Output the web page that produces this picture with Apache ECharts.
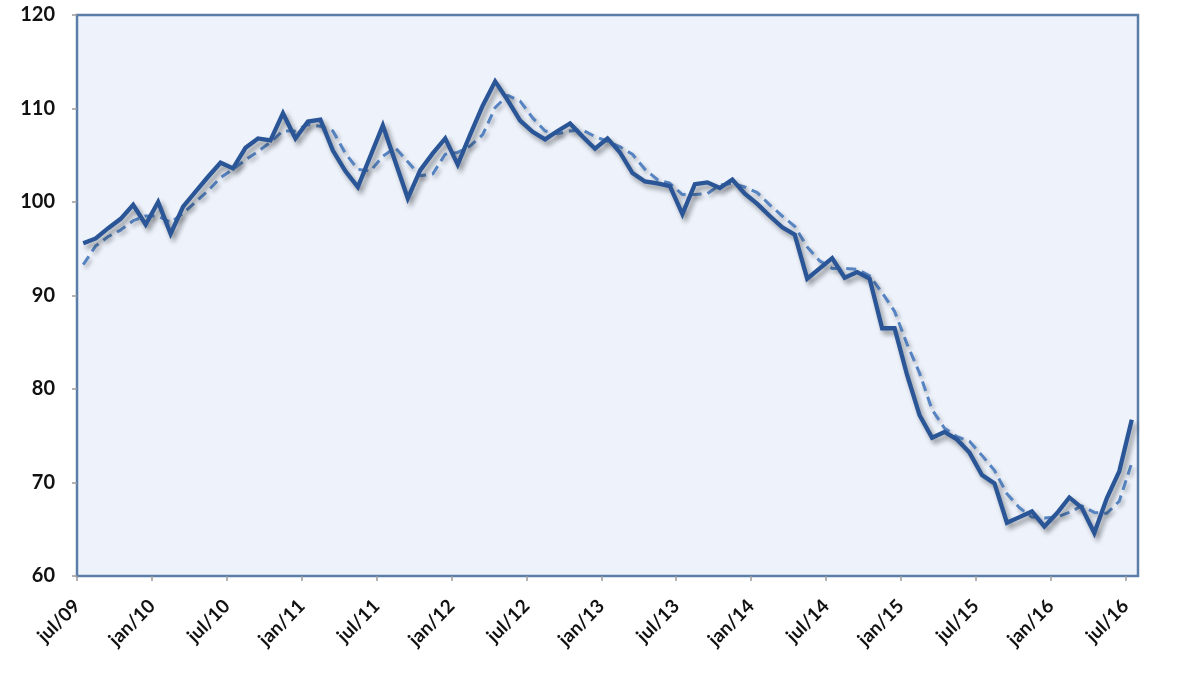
<!DOCTYPE html>
<html>
<head>
<meta charset="utf-8">
<script src="https://cdn.jsdelivr.net/npm/echarts@6/dist/echarts.min.js"></script>
<style>
  html, body { margin: 0; padding: 0; background: #fff; }
  #container { width: 1200px; height: 675px; }
</style>
</head>
<body>
<div id="container"></div>
<script>
// monthly index, jul/09 .. jul/16
const monthNames = ['jan', 'fev', 'mar', 'abr', 'mai', 'jun', 'jul', 'ago', 'set', 'out', 'nov', 'dez'];
const startYear = 2009;
const startMonth = 6; // jul

const indexValues = [
    95.6, 96.1, 97.2, 98.2, 99.7, 97.6, 100.0, 96.6, 99.5, 101.1,
    102.7, 104.2, 103.6, 105.8, 106.8, 106.6, 109.5, 106.8, 108.6, 108.8,
    105.5, 103.3, 101.6, 104.9, 108.2, 104.3, 100.4, 103.4, 105.2, 106.8,
    104.0, 107.2, 110.3, 112.9, 110.9, 108.7, 107.5, 106.7, 107.6, 108.4,
    107.0, 105.7, 106.8, 105.3, 103.1, 102.2, 102.0, 101.7, 98.7, 101.9,
    102.1, 101.5, 102.4, 100.9, 99.8, 98.5, 97.3, 96.5, 91.8, 92.9,
    94.0, 91.9, 92.5, 91.8, 86.5, 86.5, 81.5, 77.2, 74.8, 75.4,
    74.6, 73.2, 70.8, 69.9, 65.7, 66.3, 66.9, 65.3, 66.7, 68.4,
    67.3, 64.6, 68.3, 71.2, 76.7
];

const avgValues = [
    93.3, 95.3, 96.3, 97.0, 98.0, 98.5, 98.5, 97.8, 98.8, 100.0,
    101.2, 102.6, 103.5, 104.5, 105.4, 106.4, 107.6, 107.6, 108.3, 108.1,
    107.6, 105.2, 103.5, 103.3, 104.9, 105.8, 104.3, 102.8, 103.0, 105.1,
    105.3, 106.0, 107.2, 110.1, 111.4, 110.8, 109.0, 107.6, 107.3, 107.6,
    107.7, 107.0, 106.5, 105.9, 105.1, 103.5, 102.4, 102.0, 100.8, 100.8,
    100.9, 101.8, 102.0, 101.6, 101.0, 99.7, 98.5, 97.4, 95.2, 93.7,
    92.9, 92.9, 92.8, 92.1, 90.3, 88.3, 84.8, 81.7, 77.8, 75.8,
    74.9, 74.4, 72.9, 71.3, 68.8, 67.3, 66.3, 66.2, 66.3, 66.8,
    67.5, 66.8, 66.7, 68.0, 72.1
];

function monthLabel(k) {
    const m = (startMonth + k) % 12;
    const y = startYear + Math.floor((startMonth + k) / 12);
    return monthNames[m] + '/' + String(y % 100).padStart(2, '0');
}

const months = indexValues.map((v, k) => monthLabel(k));
// tick marks sit on month boundaries, one more than the months
const tickLabels = months.concat([monthLabel(months.length)]);

const font = 'Lato, "Open Sans", sans-serif';

const myChart = echarts.init(document.getElementById('container'));
const option = {
    animation: false,
    grid: {
        left: 77,
        top: 15,
        right: 62,
        bottom: 99,
        show: true,
        backgroundColor: '#edf2fb',
        borderColor: '#5b7ea8',
        borderWidth: 2.5,
    },
    xAxis: [
        {
            type: 'category',
            data: months,
            boundaryGap: true,
            show: false,
        },
        {
            type: 'category',
            data: tickLabels,
            boundaryGap: false,
            position: 'bottom',
            axisLine: { show: false },
            axisTick: {
                show: true,
                interval: 5,
                length: 5,
                lineStyle: { color: '#9a9a9a', width: 1.5 },
            },
            axisLabel: {
                interval: 5,
                rotate: 45,
                margin: 27,
                fontSize: 19,
                fontWeight: 'bold',
                fontFamily: font,
                color: '#111',
            },
            splitLine: { show: false },
        },
    ],
    yAxis: {
        type: 'value',
        min: 60,
        max: 120,
        interval: 10,
        axisLine: { show: false },
        axisTick: {
            show: true,
            length: 5,
            lineStyle: { color: '#9a9a9a', width: 1.5 },
        },
        axisLabel: {
            margin: 22,
            fontSize: 20,
            fontWeight: 'bold',
            fontFamily: font,
            color: '#111',
        },
        splitLine: { show: false },
    },
    series: [
        {
            name: 'média',
            type: 'line',
            xAxisIndex: 0,
            data: avgValues,
            symbol: 'none',
            lineStyle: {
                color: '#5684c2',
                width: 3,
                type: [10, 6],
                shadowColor: 'rgba(0,0,0,0.3)',
                shadowBlur: 4,
                shadowOffsetX: 2,
                shadowOffsetY: 3,
            },
            z: 2,
        },
        {
            name: 'índice',
            type: 'line',
            xAxisIndex: 0,
            data: indexValues,
            symbol: 'none',
            lineStyle: {
                color: '#2a5597',
                width: 4.3,
                join: 'miter',
                shadowColor: 'rgba(0,0,0,0.4)',
                shadowBlur: 5,
                shadowOffsetX: 3,
                shadowOffsetY: 4,
            },
            z: 3,
        },
    ],
};
myChart.setOption(option);
window.addEventListener('resize', () => {
    myChart.resize()
})
</script>
</body>
</html>
